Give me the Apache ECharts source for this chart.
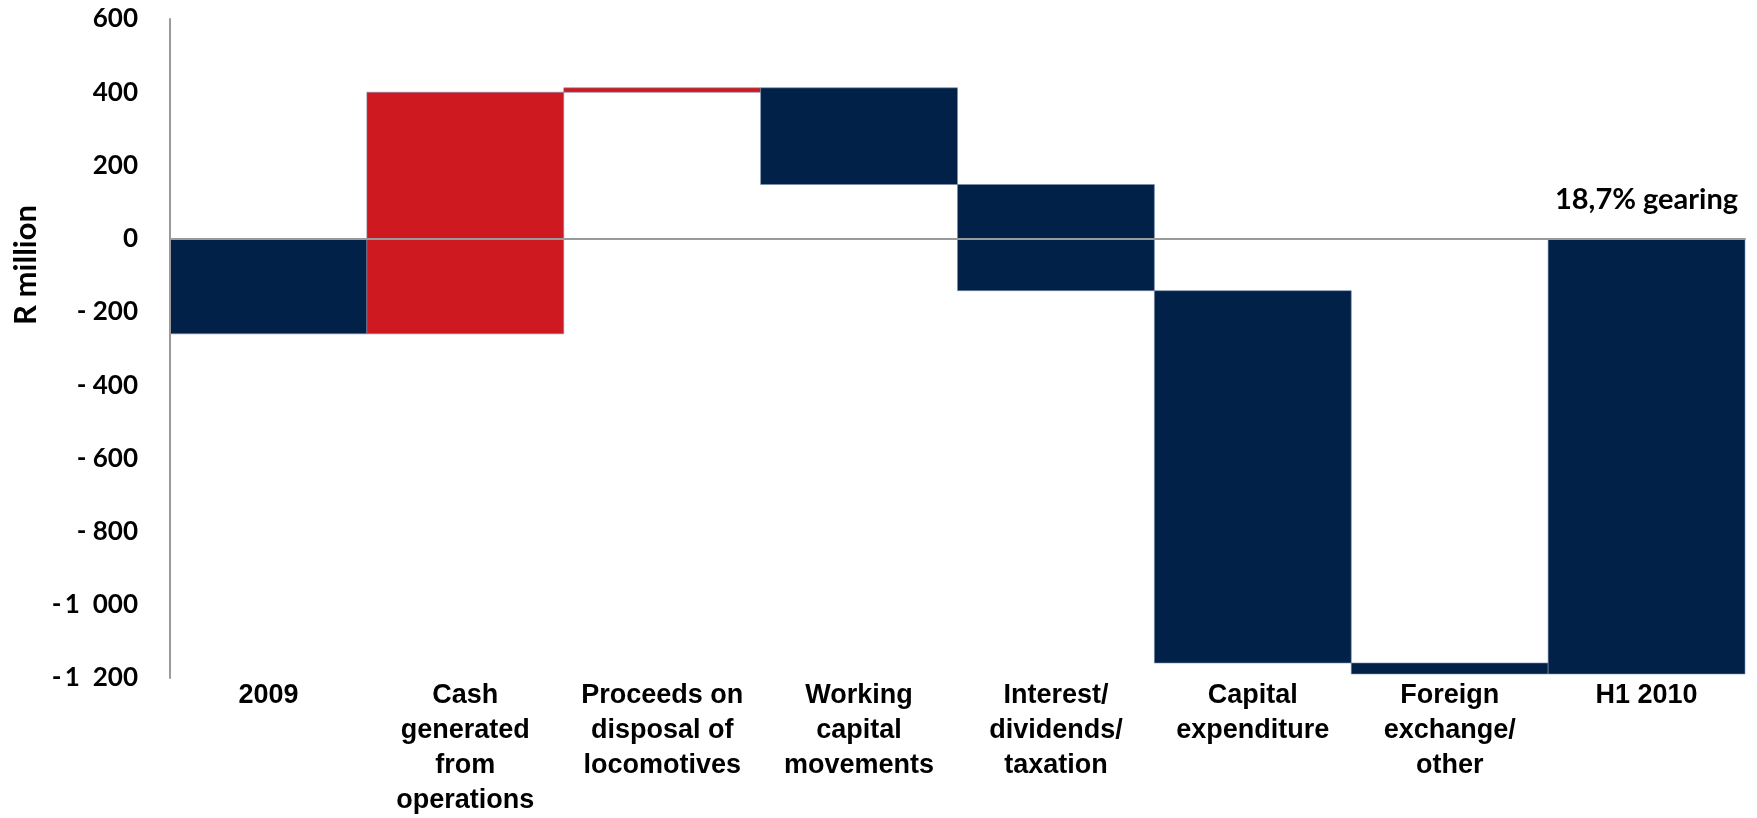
<!DOCTYPE html>
<html>
<head>
<meta charset="utf-8">
<title>Net debt bridge</title>
<script src="https://cdn.jsdelivr.net/npm/echarts@6/dist/echarts.min.js"></script>
<style>
  html, body { margin: 0; padding: 0; background: #fff; }
  #chart { width: 1757px; height: 818px; }
</style>
</head>
<body>
<div id="chart"></div>
<script>
// Bridge categories, left to right
const categories = [
  '2009',
  'Cash\ngenerated\nfrom\noperations',
  'Proceeds on\ndisposal of\nlocomotives',
  'Working\ncapital\nmovements',
  'Interest/\ndividends/\ntaxation',
  'Capital\nexpenditure',
  'Foreign\nexchange/\nother',
  'H1 2010'
];

// Opening balance, movements and closing balance (R million)
const openingBalance = -260;
const movements = [660, 12, -264, -290, -1017, -30];
const closingBalance = -1189;

// Inflows are red, outflows and balances navy
const movementKind = ['inflow', 'inflow', 'outflow', 'outflow', 'outflow', 'outflow'];

// Y axis tick labels keyed by value
const yTickLabels = {
  '600': '600', '400': '400', '200': '200', '0': '0',
  '-200': '- 200', '-400': '- 400', '-600': '- 600', '-800': '- 800',
  '-1000': '-\u20091\u2002000', '-1200': '-\u20091\u2002200'
};

const gearingNote = '18,7% gearing';
const axisName = 'R million';

const COLORS = { inflow: '#CF1920', outflow: '#012149', balance: '#012149' };

// Build [index, low, high, kind] rows for the floating bars
const rows = [];
rows.push([0, Math.min(0, openingBalance), Math.max(0, openingBalance), 'balance']);
let running = openingBalance;
movements.forEach((m, i) => {
  const next = running + m;
  rows.push([i + 1, Math.min(running, next), Math.max(running, next), movementKind[i]]);
  running = next;
});
rows.push([categories.length - 1, Math.min(0, closingBalance), Math.max(0, closingBalance), 'balance']);

const chart = echarts.init(document.getElementById('chart'), null, { renderer: 'canvas' });

const labelFont = '"Liberation Sans", Arial, sans-serif';
const tickFont = 'Lato, "Open Sans", sans-serif';

chart.setOption({
  animation: false,
  backgroundColor: '#fff',
  grid: {
    left: 170, right: 12, top: 19, bottom: 140,
    containLabel: false,
    outerBoundsMode: 'none'
  },
  xAxis: [
    {
      type: 'category',
      data: categories,
      position: 'bottom',
      axisLine: { show: false, onZero: false },
      axisTick: { show: false },
      axisLabel: {
        interval: 0,
        margin: 0,
        color: '#000',
        fontFamily: labelFont,
        fontWeight: 'bold',
        fontSize: 27,
        lineHeight: 35,
        verticalAlign: 'top'
      },
      splitLine: { show: false }
    },
    {
      // zero line across the plot, drawn above the bars
      type: 'category',
      data: categories,
      z: 10,
      axisLine: { show: true, onZero: true, lineStyle: { color: '#9a9a9a', width: 2 } },
      axisTick: { show: false },
      axisLabel: { show: false },
      splitLine: { show: false }
    }
  ],
  yAxis: {
    type: 'value',
    min: -1200,
    max: 600,
    interval: 200,
    z: 10,
    axisLine: { show: true, lineStyle: { color: '#9a9a9a', width: 2 } },
    axisTick: { show: false },
    splitLine: { show: false },
    axisLabel: {
      margin: 32,
      color: '#000',
      fontFamily: tickFont,
      fontWeight: 'bold',
      fontSize: 26,
      formatter: v => yTickLabels[String(v)] ?? String(v)
    }
  },
  graphic: [
    {
      type: 'text',
      left: 10,
      top: 205,
      rotation: Math.PI / 2,
      style: {
        text: axisName,
        fill: '#000',
        font: 'bold 31px ' + tickFont
      }
    }
  ],
  series: [
    {
      type: 'custom',
      xAxisIndex: 0,
      data: rows,
      encode: { x: 0, y: [1, 2] },
      renderItem: (params, api) => {
        const idx = api.value(0);
        const lowPt = api.coord([idx, api.value(1)]);
        const highPt = api.coord([idx, api.value(2)]);
        const w = api.size([1, 0])[0];
        const kind = rows[params.dataIndex][3];
        return {
          type: 'rect',
          shape: {
            x: lowPt[0] - w / 2,
            y: highPt[1],
            width: w,
            height: Math.max(lowPt[1] - highPt[1], 1)
          },
          style: {
            fill: COLORS[kind],
            stroke: 'rgba(120,140,170,0.6)',
            lineWidth: 1
          }
        };
      },
      z: 2
    },
    {
      type: 'scatter',
      xAxisIndex: 0,
      data: [[categories.length - 1, 0]],
      symbolSize: 0,
      silent: true,
      itemStyle: { opacity: 1 },
      label: {
        show: true,
        position: 'top',
        distance: 25,
        formatter: gearingNote,
        color: '#000',
        opacity: 1,
        fontFamily: tickFont,
        fontWeight: 'bold',
        fontSize: 29
      },
      z: 5
    }
  ]
});
</script>
</body>
</html>
